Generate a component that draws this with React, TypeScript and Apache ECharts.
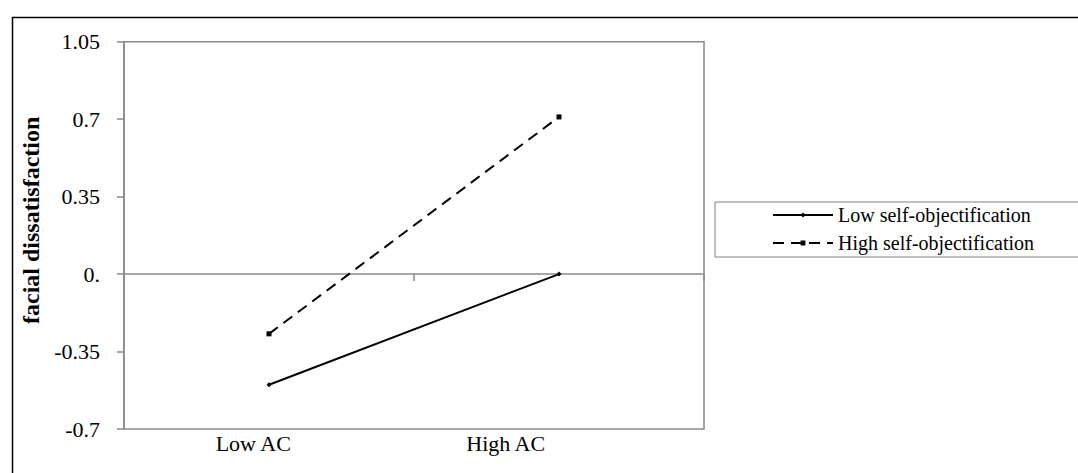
import React, { useEffect, useRef } from "react";
import * as echarts from "echarts";

const categories = ["Low AC", "High AC"];
const lowSelfObj = [-0.5, 0.0];
const highSelfObj = [-0.27, 0.71];
const seriesNames = ["Low self-objectification", "High self-objectification"];
const yTickLabels = ["-0.7", "-0.35", "0.", "0.35", "0.7", "1.05"];
const yMin = -0.7;
const yMax = 1.05;
const yInterval = 0.35;
const yTitle = "facial dissatisfaction";

const FONT = "Liberation Serif, serif";
const GRAY = "#8a8a8a";

export default function App() {
  const ref = useRef<HTMLDivElement>(null);
  useEffect(() => {
    if (!ref.current) return;
    const chart = echarts.init(ref.current, null, { renderer: "svg" });
    chart.setOption({
      animation: false,
      backgroundColor: "#fff",
      textStyle: { fontFamily: FONT, color: "#000" },
      graphic: [
        {
          type: "rect",
          left: 10,
          top: 15,
          shape: { width: 1200, height: 600 },
          style: { fill: "none", stroke: "#000", lineWidth: 1.5 },
          z: -1,
        },
      ],
      grid: [
        {
          left: 124,
          top: 41.7,
          right: 374,
          bottom: 44,
          show: true,
          borderColor: GRAY,
          borderWidth: 1.5,
          backgroundColor: "transparent",
        },
        {
          left: 127,
          width: 505,
          top: 41.7,
          bottom: 44,
          show: false,
        },
      ],
      legend: {
        orient: "vertical",
        left: 715,
        top: 202,
        padding: [3, 90, 4, 57],
        itemWidth: 60,
        itemHeight: 6,
        itemGap: 8,
        borderColor: "#808080",
        borderWidth: 1,
        backgroundColor: "#fff",
        textStyle: { fontFamily: FONT, fontSize: 20, color: "#000" },
        data: seriesNames,
      },
      xAxis: [
        {
          type: "category",
          gridIndex: 0,
          data: categories,
          boundaryGap: true,
          axisLine: { show: true, onZero: true, lineStyle: { color: GRAY, width: 1.5 } },
          axisTick: { show: true, interval: 0, length: 7, lineStyle: { color: GRAY, width: 1.5 } },
          axisLabel: { show: false },
          splitLine: { show: false },
        },
        {
          type: "category",
          gridIndex: 1,
          data: categories,
          boundaryGap: true,
          position: "bottom",
          axisLine: { show: false, onZero: false },
          axisTick: { show: false },
          axisLabel: { show: true, margin: 3, fontFamily: FONT, fontSize: 22, color: "#000" },
          splitLine: { show: false },
        },
      ],
      yAxis: [
        {
          type: "value",
          gridIndex: 0,
          min: yMin,
          max: yMax,
          interval: yInterval,
          name: yTitle,
          nameLocation: "middle",
          nameRotate: 90,
          nameGap: 80,
          nameTextStyle: {
            fontFamily: FONT,
            fontSize: 24,
            fontWeight: "bold",
            color: "#000",
            padding: [0, 0, 0, 30],
          },
          axisLine: { show: true, lineStyle: { color: GRAY, width: 1.5 } },
          axisTick: { show: true, length: 7, lineStyle: { color: GRAY, width: 1.5 } },
          axisLabel: {
            margin: 24,
            fontFamily: FONT,
            fontSize: 22,
            color: "#000",
            formatter: (_v: number, i: number) => yTickLabels[i] ?? "",
          },
          splitLine: { show: false },
        },
        {
          type: "value",
          gridIndex: 1,
          show: false,
          min: yMin,
          max: yMax,
        },
      ],
      series: [
        {
          name: seriesNames[0],
          type: "line",
          xAxisIndex: 0,
          yAxisIndex: 0,
          data: lowSelfObj,
          symbol: "diamond",
          symbolSize: 5,
          showSymbol: true,
          itemStyle: { color: "#000" },
          lineStyle: { color: "#000", width: 2, type: "solid" },
        },
        {
          name: seriesNames[1],
          type: "line",
          xAxisIndex: 0,
          yAxisIndex: 0,
          data: highSelfObj,
          symbol: "rect",
          symbolSize: 5,
          showSymbol: true,
          itemStyle: { color: "#000" },
          lineStyle: { color: "#000", width: 2, type: [11, 7] },
        },
      ],
    });
    return () => chart.dispose();
  }, []);
  return (
    <div
      ref={ref}
      style={{ position: "fixed", left: 0, top: 0, width: 1078, height: 473, background: "#fff" }}
    />
  );
}
